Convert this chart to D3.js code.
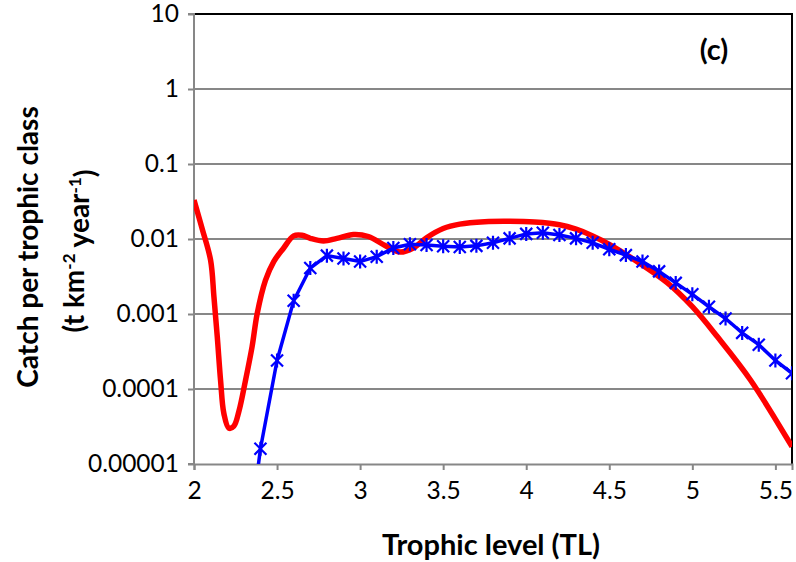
<!DOCTYPE html>
<html>
<head>
<meta charset="utf-8">
<script src="https://cdn.jsdelivr.net/npm/d3@7"></script>
<style>
  body { margin: 0; background: #fff; }
  text { font-family: Lato, "Open Sans", sans-serif; fill: #000; }
</style>
</head>
<body>
<div id="chart"></div>
<script>
// trophic levels of the observed series (blue stars)
var blueTL = [2.3, 2.4, 2.5, 2.6, 2.7, 2.8, 2.9, 3.0, 3.1, 3.2, 3.3, 3.4, 3.5, 3.6, 3.7, 3.8, 3.9,
              4.0, 4.1, 4.2, 4.3, 4.4, 4.5, 4.6, 4.7, 4.8, 4.9, 5.0, 5.1, 5.2, 5.3, 5.4, 5.5, 5.6];
var blueCatch = [3e-7, 1.6e-5, 2.4e-4, 1.5e-3, 4.1e-3, 6.0e-3, 5.5e-3, 5.0e-3, 5.8e-3, 7.6e-3, 8.5e-3,
                 8.3e-3, 8.0e-3, 7.8e-3, 8.1e-3, 8.9e-3, 1.02e-2, 1.17e-2, 1.21e-2, 1.13e-2, 1.02e-2,
                 8.9e-3, 7.3e-3, 6.1e-3, 5.0e-3, 3.7e-3, 2.6e-3, 1.83e-3, 1.25e-3, 8.7e-4, 5.6e-4,
                 3.9e-4, 2.4e-4, 1.62e-4];

// smooth red curve
var redTL = [2.00, 2.05, 2.10, 2.12, 2.14, 2.16, 2.18, 2.21, 2.24, 2.27, 2.31, 2.35, 2.38, 2.43, 2.48,
             2.54, 2.60, 2.65, 2.70, 2.78, 2.86, 2.96, 3.05, 3.15, 3.24, 3.32, 3.40, 3.50, 3.60, 3.75,
             3.90, 4.05, 4.20, 4.30, 4.40, 4.50, 4.65, 4.85, 5.00, 5.15, 5.35, 5.60];
var redCatch = [0.033, 0.0135, 0.0052, 0.0017, 5e-4, 1.3e-4, 4.7e-5, 3.0e-5, 3.2e-5, 5e-5, 1.3e-4,
                3.7e-4, 1.0e-3, 2.8e-3, 5.0e-3, 7.6e-3, 0.0110, 0.0112, 0.0102, 0.0094, 0.0102, 0.0115,
                0.0108, 0.0082, 0.0067, 0.0076, 0.0104, 0.0138, 0.0158, 0.0170, 0.0172, 0.0168,
                0.0155, 0.0135, 0.0110, 0.0085, 0.0053, 0.0026, 0.00125, 5.0e-4, 1.32e-4, 1.7e-5];

var xTicks = [2, 2.5, 3, 3.5, 4, 4.5, 5, 5.5];
var yTicks = [0.00001, 0.0001, 0.001, 0.01, 0.1, 1, 10];
var yTickLabels = ["0.00001", "0.0001", "0.001", "0.01", "0.1", "1", "10"];

var margin = {top: 14, right: 4, bottom: 98, left: 194},
    width = 796 - margin.left - margin.right,
    height = 562 - margin.top - margin.bottom;

var x = d3.scaleLinear().domain([2, 5.6]).range([0, width]);
var y = d3.scaleLog().domain([0.00001, 10]).range([height, 0]);

var svg = d3.select("#chart").append("svg")
    .attr("width", 796)
    .attr("height", 562)
  .append("g")
    .attr("transform", "translate(" + margin.left + "," + margin.top + ")");

svg.append("clipPath").attr("id", "plot")
  .append("rect")
    .attr("width", width)
    .attr("height", height);

// grid lines
svg.selectAll(".grid")
    .data(yTicks.slice(1, -1))
  .enter().append("line")
    .attr("class", "grid")
    .attr("x1", 0)
    .attr("x2", width)
    .attr("y1", function(d) { return y(d); })
    .attr("y2", function(d) { return y(d); })
    .attr("stroke", "#878787")
    .attr("stroke-width", 2);

// plot border top/right
svg.append("path")
    .attr("d", "M0," + y(10) + "H" + x(5.6) + "V" + y(0.00001))
    .attr("fill", "none")
    .attr("stroke", "#000")
    .attr("stroke-width", 2);

var yAxis = d3.axisLeft(y)
    .tickValues(yTicks)
    .tickFormat(function(d, i) { return yTickLabels[i]; })
    .tickSize(6)
    .tickPadding(9);

var xAxis = d3.axisBottom(x)
    .tickValues(xTicks)
    .tickFormat(d3.format("~g"))
    .tickSize(6)
    .tickPadding(12);

var gy = svg.append("g")
    .attr("class", "y axis")
    .call(yAxis);

var gx = svg.append("g")
    .attr("class", "x axis")
    .attr("transform", "translate(0," + height + ")")
    .call(xAxis);

[gx, gy].forEach(function(g) {
  g.select(".domain").attr("stroke", "#878787").attr("stroke-width", 2);
  g.selectAll(".tick line").attr("stroke", "#878787").attr("stroke-width", 2);
  g.selectAll(".tick text").attr("font-size", 24.5).attr("font-family", "Lato");
});
gy.select(".domain").attr("d", "M-6," + height + "H0V0H-6");

// red curve
var redData = redTL.map(function(t, i) { return [t, redCatch[i]]; });
svg.append("path")
    .datum(redData)
    .attr("clip-path", "url(#plot)")
    .attr("fill", "none")
    .attr("stroke", "#ff0000")
    .attr("stroke-width", 5.5)
    .attr("d", d3.line()
      .curve(d3.curveCatmullRom.alpha(0.5))
      .x(function(d) { return x(d[0]); })
      .y(function(d) { return y(d[1]); }));

// blue line with star markers
var blueData = blueTL.map(function(t, i) { return [t, blueCatch[i]]; });
var bg = svg.append("g").attr("clip-path", "url(#plot)");
bg.append("path")
    .datum(blueData)
    .attr("fill", "none")
    .attr("stroke", "#0000ff")
    .attr("stroke-width", 3.5)
    .attr("d", d3.line()
      .x(function(d) { return x(d[0]); })
      .y(function(d) { return y(d[1]); }));

bg.selectAll(".star")
    .data(blueData.filter(function(d) { return d[1] >= 0.00001; }))
  .enter().append("path")
    .attr("class", "star")
    .attr("transform", function(d) { return "translate(" + x(d[0]) + "," + y(d[1]) + ")"; })
    .attr("d", "M-6,-6L6,6M-6,6L6,-6M0,-7V7")
    .attr("fill", "none")
    .attr("stroke", "#0000ff")
    .attr("stroke-width", 2.2);

// labels
svg.append("text")
    .attr("x", width / 2 - 2)
    .attr("y", height + 91)
    .attr("text-anchor", "middle")
    .attr("font-size", 29)
    .attr("font-weight", "bold")
    .text("Trophic level (TL)");

var yt = svg.append("g")
    .attr("transform", "translate(-166," + (height / 2 + 8) + ") rotate(-90)");
yt.append("text")
    .attr("text-anchor", "middle")
    .attr("dy", "0.35em")
    .attr("font-size", 28)
    .attr("font-weight", "bold")
    .text("Catch per trophic class");
var t2 = yt.append("text")
    .attr("x", -4)
    .attr("y", 46)
    .attr("text-anchor", "middle")
    .attr("dy", "0.35em")
    .attr("font-size", 28)
    .attr("font-weight", "bold");
t2.append("tspan").text("(t km");
t2.append("tspan").attr("dy", "-0.5em").attr("font-size", 17).text("-2");
t2.append("tspan").attr("dy", "0.5em").text(" year");
t2.append("tspan").attr("dy", "-0.5em").attr("font-size", 17).text("-1");
t2.append("tspan").attr("dy", "0.5em").text(")");

svg.append("text")
    .attr("x", x(5.13))
    .attr("y", y(3.3))
    .attr("text-anchor", "middle")
    .attr("dy", "0.35em")
    .attr("font-size", 29)
    .attr("font-weight", "bold")
    .text("(c)");
</script>
</body>
</html>
